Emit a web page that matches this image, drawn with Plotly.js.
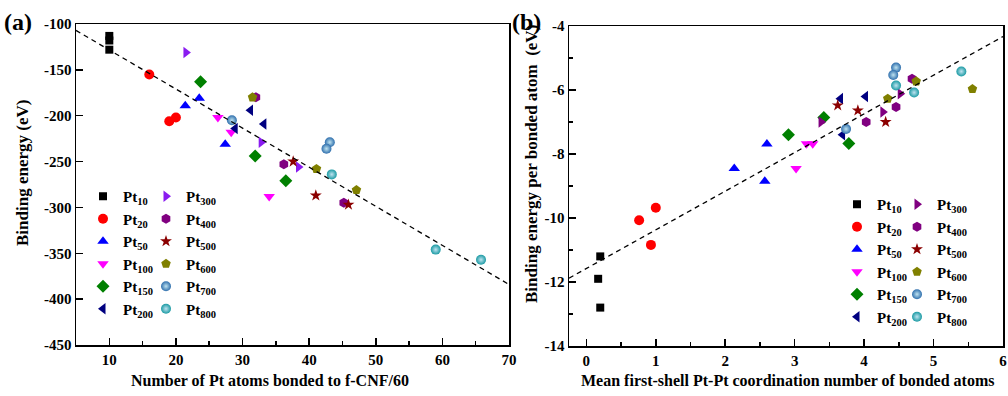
<!DOCTYPE html>
<html><head><meta charset="utf-8">
<script src="https://cdn.plot.ly/plotly-3.0.1.min.js"></script>
<style>html,body{margin:0;padding:0;background:#fff}#chart{width:1008px;height:396px}</style>
</head><body><div id="chart"></div>
<script>
// ---- data ----
const sizes = ['10','20','50','100','150','200','300','400','500','600','700','800'];
// panel (a): number of Pt atoms bonded vs binding energy (eV)
const aX = [[10,10,10],[16,19,20],[21.4,23.5,27.4],[26.3,28.3,34],[23.7,31.9,36.5],[28.9,31.2,33.2],
            [21.5,32.8,38.4],[32,36.2,45.2],[37.6,41,45.9],[31.5,41.1,47.1],[28.4,43.1,42.6],[43.4,59,65.8]];
const aY = [[-113,-118,-128],[-155,-206,-202],[-189,-181,-231],[-202,-218,-288],[-163,-244,-271],[-214,-194,-209],
            [-131,-229,-256],[-180,-253,-295],[-250,-287,-297],[-180,-258,-281],[-205,-229,-236],[-264,-346,-357]];
const aFitX = [5, 70];
const aFitY = [-107, -384];
// panel (b): mean coordination number vs binding energy per bonded atom (eV)
const bX = [[0.2,0.17,0.2],[0.76,1.0,0.93],[2.13,2.6,2.57],[3.02,3.17,3.26],[2.91,3.42,3.78],[3.66,4.02,3.69],
            [3.38,4.27,4.52],[4.03,4.46,4.69],[3.62,3.91,4.31],[4.34,4.75,5.56],[4.46,4.42,3.74],[4.46,4.72,5.4]];
const bY = [[-11.2,-11.9,-12.8],[-10.07,-9.68,-10.84],[-8.45,-7.69,-8.85],[-8.45,-7.68,-7.68],[-7.4,-6.86,-7.67],[-6.27,-6.2,-7.4],
            [-7.0,-6.69,-6.12],[-7.0,-6.53,-5.65],[-6.48,-6.64,-7.0],[-6.27,-5.73,-5.97],[-5.3,-5.53,-7.22],[-5.86,-6.08,-5.42]];
const bFitX = [-0.25, 6];
const bFitY = [-11.88, -4.33];
const aXTicks = [10,20,30,40,50,60,70];
const aYTicks = [-450,-400,-350,-300,-250,-200,-150,-100];
const bXTicks = [0,1,2,3,4,5,6];
const bYTicks = [-14,-12,-10,-8,-6,-4];

// ---- styles ----
const symbols = ['square','circle','triangle-up','triangle-down','diamond','triangle-left','triangle-right','hexagon','star','pentagon','circle','circle'];
const colorsA = ['#000000','#ff0000','#0000ff','#ff00ff','#008000','#000080','#8a1cf0','#800080','#8b0000','#808000','#2f6fad','#1a9aa3'];
const colorsB = ['#000000','#ff0000','#0000ff','#ff00ff','#008000','#000080','#800080','#800080','#8b0000','#808000','#2f6fad','#1a9aa3'];
const msize = [8,10,10,10,10,10,10,10,9,10,10,10];
const FONT = 'Liberation Serif, Times New Roman, serif';

const traces = [];
sizes.forEach((s,i)=>{
  const grad = (i>=10) ? {type:'radial', color:'#bfe3f0'} : undefined;
  traces.push({x:aX[i], y:aY[i], xaxis:'x', yaxis:'y', mode:'markers', type:'scatter',
    name:'Pt<sub>'+s+'</sub>', legend: i<6 ? 'legend' : 'legend2',
    marker:{symbol:symbols[i], color:colorsA[i], size:msize[i], line:{width:0}, gradient:grad}});
});
sizes.forEach((s,i)=>{
  const grad = (i>=10) ? {type:'radial', color:'#bfe3f0'} : undefined;
  traces.push({x:bX[i], y:bY[i], xaxis:'x2', yaxis:'y2', mode:'markers', type:'scatter',
    name:'Pt<sub>'+s+'</sub>', legend: i<6 ? 'legend3' : 'legend4',
    marker:{symbol:symbols[i], color:colorsB[i], size:msize[i], line:{width:0}, gradient:grad}});
});
traces.push({x:aFitX, y:aFitY, xaxis:'x', yaxis:'y', mode:'lines', showlegend:false, line:{color:'#000', width:1.3, dash:'5px,4px'}});
traces.push({x:bFitX, y:bFitY, xaxis:'x2', yaxis:'y2', mode:'lines', showlegend:false, line:{color:'#000', width:1.3, dash:'5px,4px'}});

const axisBase = {showline:true, mirror:true, linecolor:'#000', linewidth:1.5, showgrid:false, zeroline:false,
  ticks:'inside', ticklen:7, tickwidth:1.5, tickcolor:'#000', tickfont:{family:FONT, size:15, weight:'bold'}, tickmode:'array'};

const H = 396, W = 1008;
const legBase = {bgcolor:'rgba(0,0,0,0)', borderwidth:0, font:{family:FONT, size:15, weight:'bold'}, tracegroupgap:0,
  xanchor:'left', yanchor:'top', xref:'paper', yref:'paper'};

const layout = {
  width:W, height:H, margin:{l:0,r:0,t:0,b:0}, paper_bgcolor:'#fff', plot_bgcolor:'#fff',
  font:{family:FONT, size:15, color:'#000', weight:'bold'},
  xaxis:Object.assign({}, axisBase, {domain:[76/W, 509/W], range:[5,70], anchor:'y', tickvals:aXTicks, ticktext:aXTicks.map(String),
    minor:{tickmode:'linear', tick0:5, dtick:10, ticks:'inside', ticklen:4, tickwidth:1.5, tickcolor:'#000', showgrid:false}}),
  yaxis:Object.assign({}, axisBase, {domain:[51/H, 372/H], range:[-450,-100], anchor:'x', tickvals:aYTicks, ticktext:aYTicks.map(String)}),
  xaxis2:Object.assign({}, axisBase, {domain:[569/W, 1003/W], range:[-0.25,6], anchor:'y2', tickvals:bXTicks, ticktext:bXTicks.map(String),
    minor:{tickmode:'linear', tick0:0.5, dtick:1, ticks:'inside', ticklen:4, tickwidth:1.5, tickcolor:'#000', showgrid:false}}),
  yaxis2:Object.assign({}, axisBase, {domain:[50/H, 370/H], range:[-14,-4], anchor:'x2', tickvals:bYTicks, ticktext:bYTicks.map(String),
    minor:{tickmode:'linear', tick0:-13, dtick:2, ticks:'inside', ticklen:4, tickwidth:1.5, tickcolor:'#000', showgrid:false}}),
  legend:Object.assign({}, legBase, {x:83/W, y:1-180/H}),
  legend2:Object.assign({}, legBase, {x:146/W, y:1-180/H}),
  legend3:Object.assign({}, legBase, {x:837/W, y:1-188/H}),
  legend4:Object.assign({}, legBase, {x:897/W, y:1-188/H}),
  annotations:[
    {text:'(a)', x:2/W, y:1-22/H, xref:'paper', yref:'paper', xanchor:'left', yanchor:'middle', showarrow:false, font:{family:FONT, size:24, weight:'bold'}},
    {text:'(b)', x:510/W, y:1-22/H, xref:'paper', yref:'paper', xanchor:'left', yanchor:'middle', showarrow:false, font:{family:FONT, size:24, weight:'bold'}},
    {text:'Number of Pt atoms bonded to f-CNF/60', x:270/W, y:1-380/H, xref:'paper', yref:'paper', xanchor:'center', yanchor:'middle', showarrow:false, font:{family:FONT, size:16, weight:'bold'}},
    {text:'Binding energy (eV)', x:22/W, y:1-173/H, xref:'paper', yref:'paper', xanchor:'center', yanchor:'middle', textangle:-90, showarrow:false, font:{family:FONT, size:17, weight:'bold'}},
    {text:'Mean first-shell Pt-Pt coordination number of bonded atoms', x:787/W, y:1-380/H, xref:'paper', yref:'paper', xanchor:'center', yanchor:'middle', showarrow:false, font:{family:FONT, size:16, weight:'bold'}},
    {text:'Binding energy per bonded atom  (eV)', x:531/W, y:1-164/H, xref:'paper', yref:'paper', xanchor:'center', yanchor:'middle', textangle:-90, showarrow:false, font:{family:FONT, size:17, weight:'bold'}}
  ]
};
Plotly.newPlot('chart', traces, layout, {displayModeBar:false, staticPlot:true});
</script></body></html>
